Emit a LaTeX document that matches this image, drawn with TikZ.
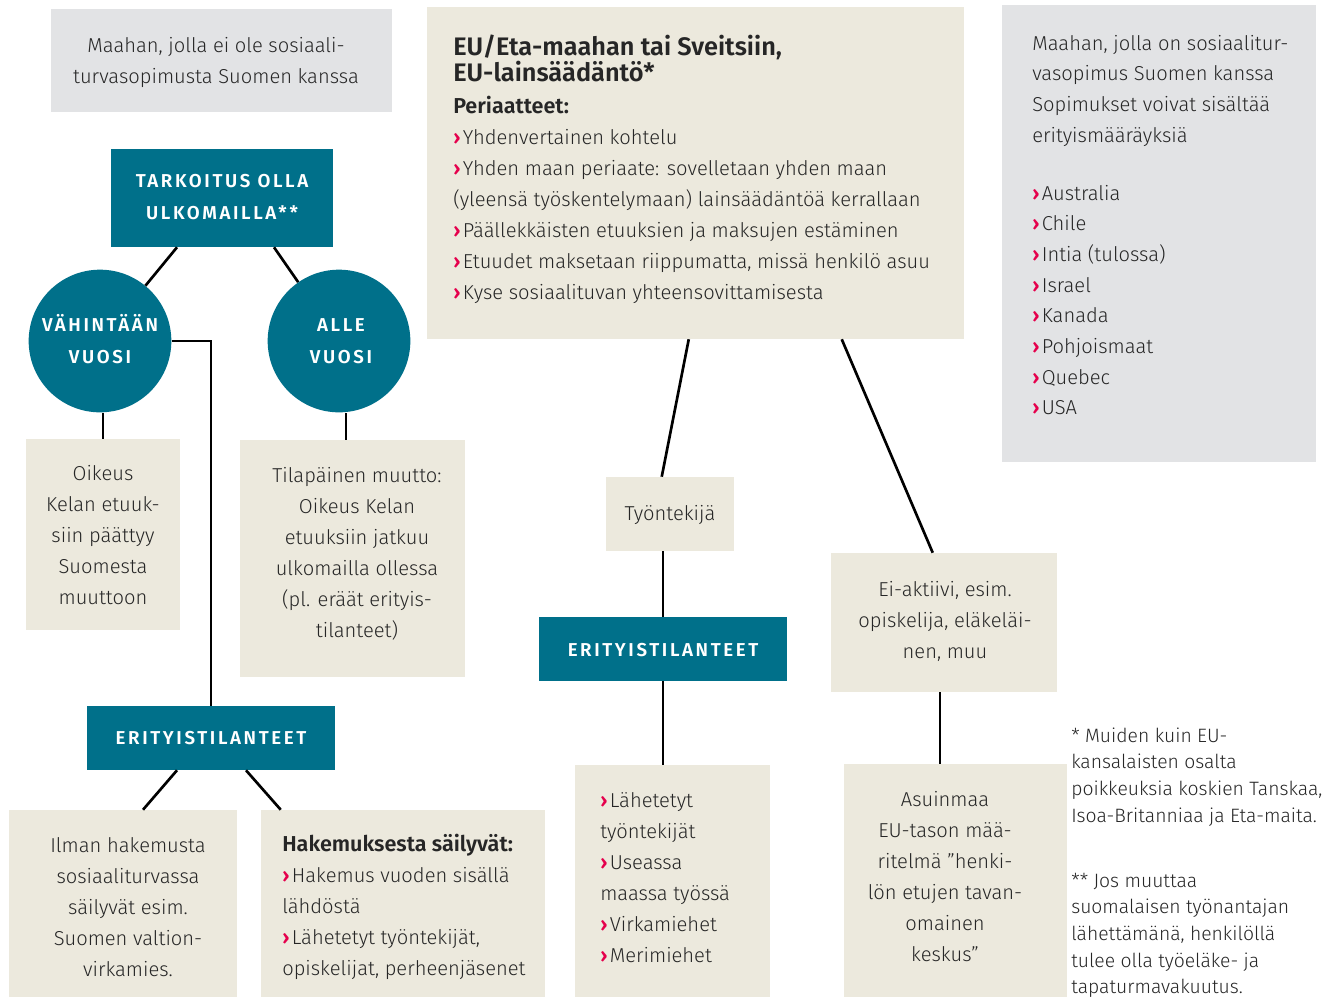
\documentclass[tikz,border=0pt]{standalone}
\usepackage{fontspec}
\setmainfont{Fira Sans Light}[BoldFont=Fira Sans SemiBold]
\usetikzlibrary{fit,calc}
\definecolor{tealk}{HTML}{00708A}
\definecolor{beigek}{HTML}{ECE9DD}
\definecolor{grayk}{HTML}{E2E3E5}
\definecolor{inkk}{HTML}{262626}
\definecolor{redk}{HTML}{E5004C}
\newcommand{\bodyf}{\fontsize{15.1}{23.25}\selectfont}
\newcommand{\notef}{\fontsize{14.5}{20}\selectfont}
\newcommand{\tealf}{\fontsize{14}{24}\selectfont\bfseries\addfontfeature{LetterSpace=14}}
\newcommand{\bl}{{\color{redk}\bfseries ›}\hspace{0.12em}}
\newcommand{\bt}[1]{{\fontsize{16.2}{23.25}\selectfont\bfseries #1}}
\begin{document}
\begin{tikzpicture}[x=0.75pt,y=-0.75pt,
  panel/.style={inner sep=0pt, draw=none},
  bpanel/.style={panel, fill=beigek},
  gpanel/.style={panel, fill=grayk},
  tpanel/.style={panel, fill=tealk},
  tcircle/.style={circle, fill=tealk, inner sep=0pt, minimum size=107pt},
  tl/.style={inner sep=0pt, anchor=base west, align=left, font=\bodyf, text=inkk},
  tc/.style={inner sep=0pt, anchor=base, align=center, font=\bodyf, text=inkk},
  tw/.style={inner sep=0pt, anchor=base, align=center, font=\tealf, text=white},
  note/.style={inner sep=0pt, anchor=base west, align=left, font=\notef, text=inkk},
  conn/.style={draw=black, line width=2pt}]
\useasboundingbox (0,0) rectangle (1330,997);
\fill[white] (0,0) rectangle (1330,997);

% panels
\node[gpanel, fit={(51,9) (392,112)}] (nosop) {};
\node[bpanel, fit={(427,7) (964,339)}] (eu) {};
\node[gpanel, fit={(1002,5) (1316,462)}] (sop) {};
\node[tpanel, fit={(111,149) (333,247)}] (tark) {};
\node[tcircle] (vah) at (100,341) {};
\node[tcircle] (alle) at (339,341) {};
\node[bpanel, fit={(26,439) (180,630)}] (oikeus) {};
\node[bpanel, fit={(240,440) (465,677)}] (tila) {};
\node[tpanel, fit={(87,706) (335,770)}] (eri1) {};
\node[bpanel, fit={(9,810) (237,997)}] (ilman) {};
\node[bpanel, fit={(261,810) (545,997)}] (hak) {};
\node[bpanel, fit={(606,477) (734,551)}] (tyo) {};
\node[tpanel, fit={(539,617) (787,681)}] (eri2) {};
\node[bpanel, fit={(575,765) (770,997)}] (lah) {};
\node[bpanel, fit={(831,553) (1057,692)}] (eiakt) {};
\node[bpanel, fit={(844,764) (1067,997)}] (asuin) {};

% connectors
\draw[conn] ($(tark.south)+(-45,0)$) -- (vah);
\draw[conn] ($(tark.south)+(52,0)$) -- (alle);
\draw[conn] (oikeus.north) -- (oikeus.north |- vah.south);
\coordinate (ca) at ($(tila.north)+(-6.5,0)$);
\draw[conn] (ca) -- (ca |- alle.south);
\draw[conn] (vah.east) -| (eri1.north);
\draw[conn] ($(eri1.south)+(-34,0)$) -- ($(ilman.north)+(20,0)$);
\draw[conn] ($(eri1.south)+(35,0)$) -- ($(hak.north west)+(20,0)$);
\draw[conn] ($(eu.south west)+(262,0)$) -- ($(tyo.north west)+(56,0)$);
\draw[conn] ($(eu.south west)+(415,0)$) -- ($(eiakt.north west)+(102,0)$);
\draw[conn] (eri2.north) -- (eri2.north |- tyo.south);
\draw[conn] (eri2.south) -- (eri2.south |- lah.north);
\coordinate (cb) at ($(eiakt.south)+(-4,0)$);
\draw[conn] (cb) -- (cb |- asuin.north);

% texts (anchor = baseline of the last line)
\node[tc] (t-nosop) at (216,83) {Maahan, jolla ei ole sosiaali-\\turvasopimusta Suomen kanssa};
\node[tl, font=\fontsize{19}{19.5}\selectfont\bfseries] (t-eutitle) at (453,81) {EU/Eta-maahan tai Sveitsiin,\\EU-lainsäädäntö*};
\node[tl] (t-eu) at (453,299) {\bt{Periaatteet:}\\
\bl Yhdenvertainen kohtelu\\
\bl Yhden maan periaate: sovelletaan yhden maan\\
(yleensä työskentelymaan) lainsäädäntöä kerrallaan\\
\bl Päällekkäisten etuuksien ja maksujen estäminen\\
\bl Etuudet maksetaan riippumatta, missä henkilö asuu\\
\bl Kyse sosiaalituvan yhteensovittamisesta};
\node[tl, font=\fontsize{15.1}{23}\selectfont] (t-sop) at (1032,142) {Maahan, jolla on sosiaalitur-\\vasopimus Suomen kanssa\\Sopimukset voivat sisältää\\erityismääräyksiä};
\node[tl, font=\fontsize{15.1}{23}\selectfont] (t-maat) at (1032,414.7) {\bl Australia\\\bl Chile\\\bl Intia (tulossa)\\\bl Israel\\\bl Kanada\\\bl Pohjoismaat\\\bl Quebec\\\bl USA};

\node[tw] (t-tark) at (222,219) {TARKOITUS OLLA\\ULKOMAILLA**};
\node[tw] (t-vah) at (100,363) {VÄHINTÄÄN\\VUOSI};
\node[tw] (t-alle) at (341,363) {ALLE\\VUOSI};
\node[tw] (t-eri1) at (211,744) {ERITYISTILANTEET};
\node[tw] (t-eri2) at (663,656) {ERITYISTILANTEET};

\node[tc] (t-oikeus) at (103,604) {Oikeus\\Kelan etuuk-\\siin päättyy\\Suomesta\\muuttoon};
\node[tc] (t-tila) at (357,637) {Tilapäinen muutto:\\Oikeus Kelan\\etuuksiin jatkuu\\ulkomailla ollessa\\(pl. eräät erityis-\\tilanteet)};
\node[tc] (t-ilman) at (128,976) {Ilman hakemusta\\sosiaaliturvassa\\säilyvät esim.\\Suomen valtion-\\virkamies.};
\node[tl] (t-hak) at (282,975) {\bt{Hakemuksesta säilyvät:}\\\bl Hakemus vuoden sisällä\\lähdöstä\\\bl Lähetetyt työntekijät,\\opiskelijat, perheenjäsenet};
\node[tc] (t-tyo) at (670,520) {Työntekijä};
\node[tl] (t-lah) at (600,962) {\bl Lähetetyt\\työntekijät\\\bl Useassa\\maassa työssä\\\bl Virkamiehet\\\bl Merimiehet};
\node[tc] (t-eiakt) at (945,658) {Ei-aktiivi, esim.\\opiskelija, eläkeläi-\\nen, muu};
\node[tc] (t-asuin) at (945,961) {Asuinmaa\\EU-tason mää-\\ritelmä ”henki-\\lön etujen tavan-\\omainen\\keskus”};

\node[note] (n1) at (1071,822) {* Muiden kuin EU-\\kansalaisten osalta\\poikkeuksia koskien Tanskaa,\\Isoa-Britanniaa ja Eta-maita.};
\node[note] (n2) at (1071,993.7) {** Jos muuttaa\\suomalaisen työnantajan\\lähettämänä, henkilöllä\\tulee olla työeläke- ja\\tapaturmavakuutus.};
\end{tikzpicture}
\end{document}
